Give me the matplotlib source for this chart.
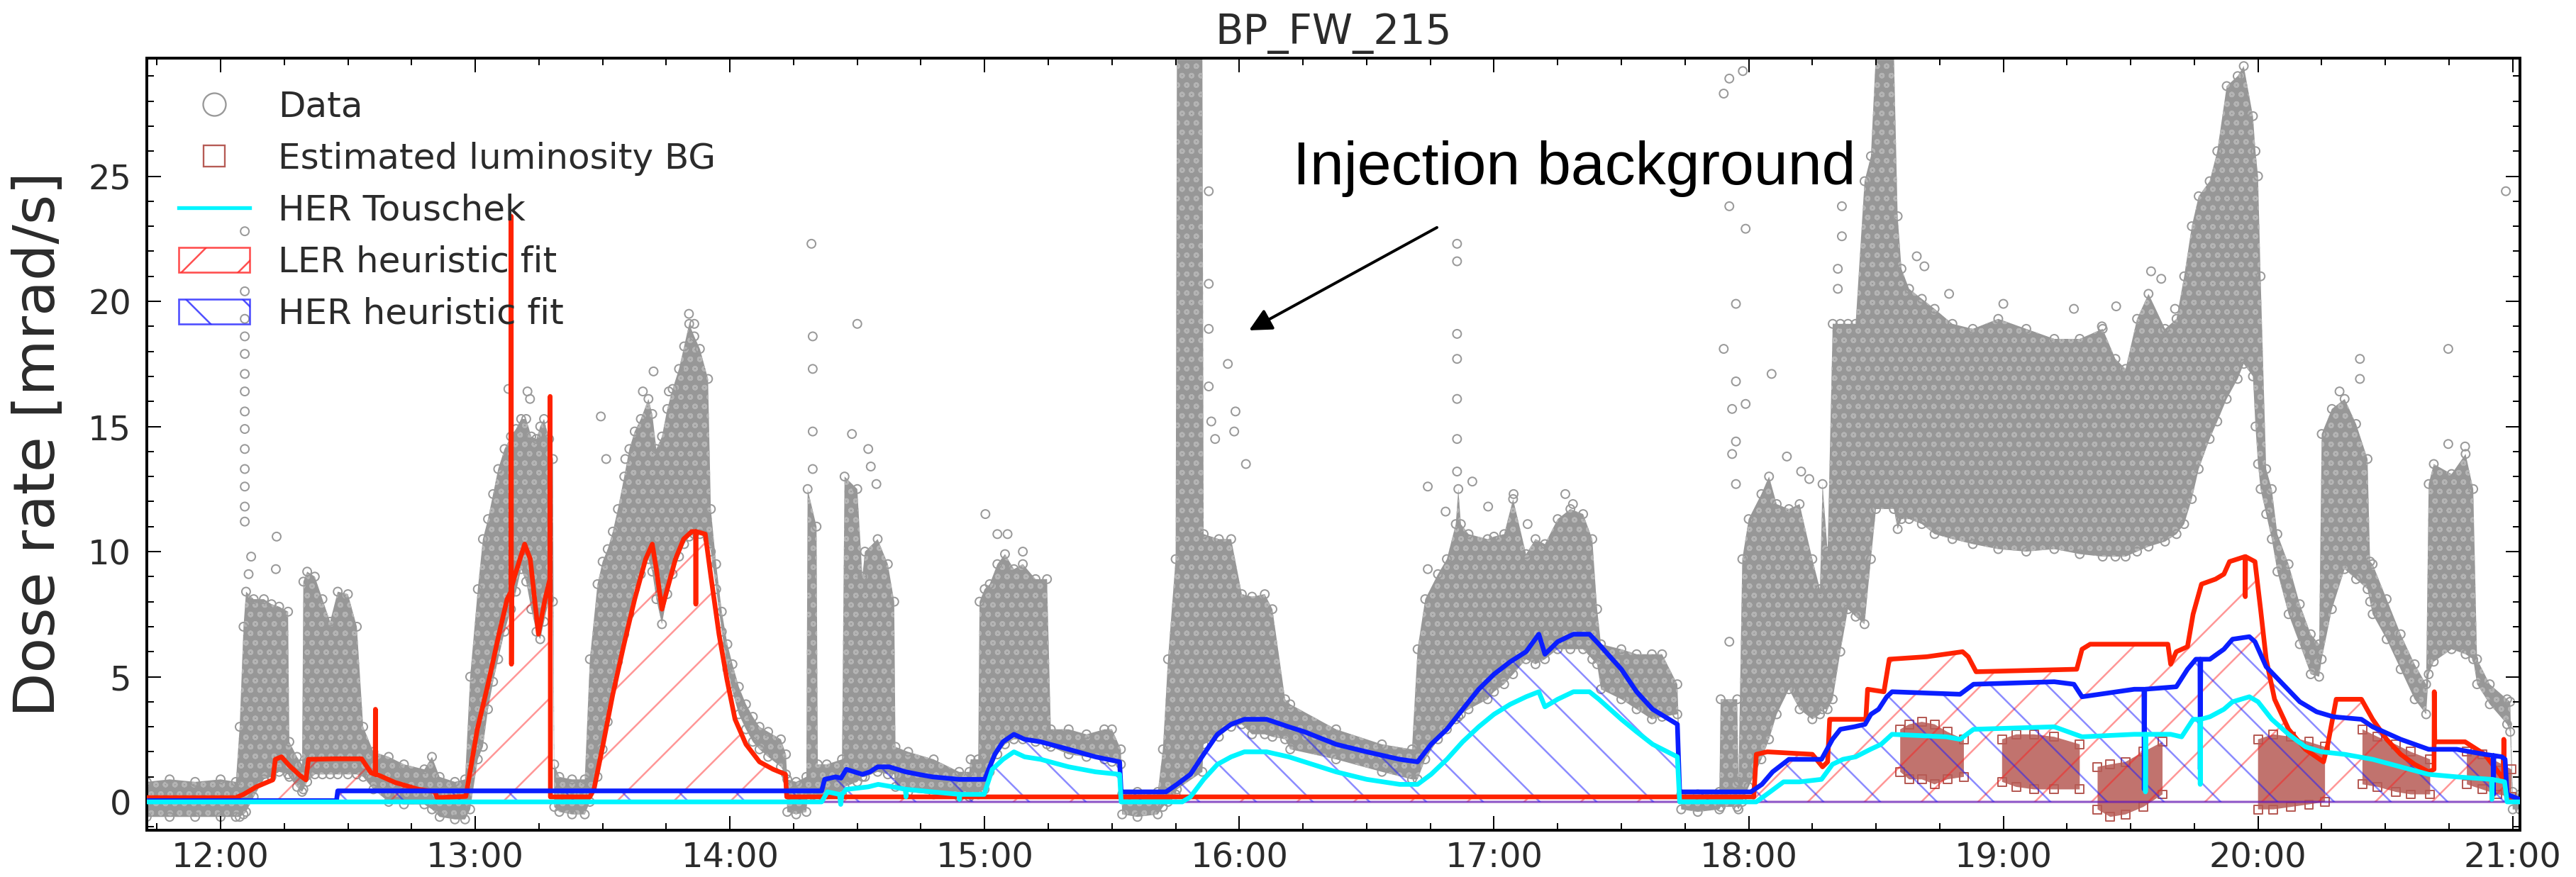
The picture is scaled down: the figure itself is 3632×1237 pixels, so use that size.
import numpy as np
import matplotlib
matplotlib.use("Agg")
import matplotlib.pyplot as plt
from matplotlib.lines import Line2D
from matplotlib.patches import Patch
from matplotlib.ticker import MultipleLocator, FuncFormatter

# all times are decimal hours of the day, dose rates in mrad/s

# measured data: lower / upper edge of the dense cloud of points
data_env = [
    (11.71, -0.6, 0.8), (11.80, -0.6, 0.9), (11.90, -0.6, 0.8), (12.00, -0.6, 0.9),
    (12.06, -0.6, 0.8), (12.075, -0.6, 3.0), (12.09, -0.5, 7.0), (12.10, -0.4, 8.4),
    (12.13, 0.2, 8.1), (12.17, 0.9, 8.1), (12.20, 1.0, 7.9), (12.23, 1.2, 7.8),
    (12.265, 1.1, 7.6), (12.27, 1.0, 2.4), (12.30, 0.6, 1.8), (12.32, 0.4, 1.5),
    (12.325, 0.5, 8.8), (12.34, 0.8, 9.2), (12.37, 1.1, 9.0), (12.40, 1.1, 8.1),
    (12.43, 1.1, 7.2), (12.46, 1.1, 8.4), (12.50, 1.1, 8.3), (12.535, 1.1, 7.0),
    (12.56, 1.0, 3.0), (12.60, 0.5, 2.0), (12.66, 0.0, 1.8), (12.72, -0.1, 1.5),
    (12.80, -0.1, 1.3), (12.83, -0.3, 1.8), (12.86, -0.6, 1.0), (12.92, -0.7, 0.8),
    (12.96, -0.7, 0.9), (12.98, -0.3, 5.0), (13.01, 1.7, 8.5), (13.03, 2.2, 10.5),
    (13.05, 3.7, 11.3), (13.07, 4.8, 12.3), (13.09, 5.7, 13.3), (13.115, 6.8, 14.1),
    (13.14, 7.7, 14.6), (13.16, 8.4, 14.9), (13.18, 9.3, 15.3), (13.20, 8.8, 15.3),
    (13.22, 7.7, 14.6), (13.24, 6.8, 14.5), (13.255, 6.5, 15.0), (13.27, 7.2, 15.3),
    (13.29, 8.1, 14.5), (13.305, 8.0, 13.7), (13.31, -0.2, 1.5), (13.33, -0.4, 1.0),
    (13.38, -0.5, 0.9), (13.43, -0.5, 0.9), (13.45, 0.0, 5.7), (13.48, 1.0, 8.7),
    (13.50, 2.1, 9.6), (13.52, 3.2, 10.1), (13.54, 4.7, 10.8), (13.56, 5.6, 11.7),
    (13.585, 6.7, 13.0), (13.605, 7.5, 14.1), (13.626, 8.5, 14.8), (13.65, 9.1, 15.3),
    (13.68, 9.7, 16.1), (13.695, 9.2, 15.5), (13.711, 8.1, 14.1), (13.733, 7.1, 14.6),
    (13.754, 8.3, 15.7), (13.775, 9.1, 16.5), (13.80, 9.8, 17.3), (13.82, 10.3, 18.2),
    (13.84, 10.6, 19.1), (13.86, 10.7, 18.6), (13.882, 10.7, 18.1), (13.914, 10.5, 16.9),
    (13.925, 10.0, 11.7), (13.946, 8.5, 9.5), (13.968, 6.8, 7.6), (13.99, 5.3, 6.3),
    (14.01, 4.4, 5.5), (14.035, 3.5, 4.6), (14.063, 2.9, 3.9), (14.09, 2.4, 3.4),
    (14.116, 2.1, 3.0), (14.15, 1.8, 2.8), (14.20, 1.4, 2.5), (14.22, 1.1, 1.9),
    (14.225, -0.4, 0.9), (14.26, -0.5, 0.8), (14.30, -0.4, 1.0), (14.305, 0.2, 12.5),
    (14.34, 0.2, 11.0), (14.345, 0.2, 1.5), (14.38, 0.3, 1.5), (14.44, 0.3, 1.7),
    (14.45, 0.6, 13.0), (14.50, 0.8, 12.5), (14.52, 1.0, 9.0), (14.53, 1.0, 10.0),
    (14.58, 1.2, 10.5), (14.62, 1.1, 9.5), (14.645, 1.1, 8.0), (14.65, 0.6, 2.2),
    (14.70, 0.4, 2.0), (14.80, 0.3, 1.7), (14.90, 0.2, 1.2), (14.94, 0.2, 1.2),
    (14.945, 0.3, 1.7), (14.975, 0.3, 1.7), (14.98, 0.4, 8.0), (15.00, 0.5, 8.5),
    (15.02, 1.2, 8.7), (15.05, 1.9, 9.5), (15.08, 2.3, 9.9), (15.115, 2.5, 9.3),
    (15.15, 2.5, 9.5), (15.20, 2.4, 8.9), (15.245, 2.3, 8.9), (15.26, 2.2, 2.9),
    (15.33, 1.9, 2.9), (15.40, 1.8, 2.7), (15.47, 1.7, 2.9), (15.50, 1.6, 2.9),
    (15.535, 1.5, 2.1), (15.54, -0.5, 0.3), (15.60, -0.6, 0.4), (15.68, -0.5, 0.4),
    (15.70, -0.2, 2.1), (15.72, 0.0, 5.7), (15.75, 0.3, 9.7), (15.755, 0.5, 30.0),
    (15.855, 1.2, 30.0), (15.86, 2.3, 10.7), (15.92, 2.6, 10.5), (15.968, 3.0, 10.5),
    (16.01, 3.1, 8.3), (16.05, 2.7, 8.2), (16.10, 2.7, 8.3), (16.13, 2.6, 7.7),
    (16.18, 2.5, 4.1), (16.20, 2.1, 3.9), (16.38, 1.7, 2.9), (16.56, 1.2, 2.3),
    (16.678, 0.9, 2.1), (16.70, 0.9, 6.1), (16.73, 1.7, 8.1), (16.78, 2.5, 9.1),
    (16.815, 2.9, 9.7), (16.85, 3.3, 11.1), (16.86, 3.4, 12.5), (16.87, 3.5, 11.1),
    (16.90, 3.7, 10.7), (16.975, 4.1, 10.5), (17.00, 4.4, 10.6), (17.04, 4.7, 10.7),
    (17.075, 5.1, 12.1), (17.126, 5.7, 9.9), (17.163, 5.5, 10.5), (17.20, 5.7, 10.3),
    (17.25, 6.1, 11.3), (17.30, 6.1, 11.7), (17.35, 6.1, 11.5), (17.386, 5.7, 10.5),
    (17.405, 5.5, 7.7), (17.42, 4.5, 6.3), (17.50, 4.1, 6.1), (17.56, 3.7, 5.9),
    (17.62, 3.3, 5.9), (17.66, 3.4, 5.9), (17.72, 3.5, 4.7), (17.735, -0.3, 0.3),
    (17.80, -0.4, 0.3), (17.885, -0.3, 0.4), (17.89, -0.2, 4.1), (17.955, -0.2, 4.1),
    (17.96, -0.3, 0.8), (17.975, 0.0, 9.7), (18.00, 0.6, 11.3), (18.05, 1.7, 12.3),
    (18.08, 2.5, 13.0), (18.11, 3.5, 11.9), (18.158, 4.5, 11.7), (18.20, 3.7, 11.9),
    (18.25, 3.3, 9.7), (18.28, 3.5, 8.5), (18.29, 3.7, 12.7), (18.31, 3.7, 10.0),
    (18.33, 4.1, 19.1), (18.36, 6.0, 19.1), (18.39, 7.7, 19.1), (18.42, 7.4, 19.1),
    (18.455, 7.1, 24.8), (18.48, 9.7, 25.8), (18.50, 11.7, 30.0), (18.57, 11.7, 30.0),
    (18.585, 10.9, 23.4), (18.60, 11.3, 21.3), (18.63, 11.3, 20.5), (18.68, 11.1, 20.1),
    (18.73, 10.7, 19.7), (18.80, 10.5, 19.1), (18.88, 10.3, 18.9), (18.98, 10.1, 19.3),
    (19.09, 10.0, 18.9), (19.20, 10.1, 18.5), (19.30, 9.9, 18.5), (19.39, 9.8, 18.9),
    (19.44, 9.8, 17.7), (19.48, 9.8, 17.3), (19.525, 10.0, 19.3), (19.57, 10.2, 20.3),
    (19.635, 10.4, 18.9), (19.68, 10.7, 19.3), (19.71, 11.1, 21.0), (19.74, 12.1, 23.0),
    (19.767, 13.3, 24.2), (19.81, 14.5, 24.8), (19.84, 15.2, 26.0), (19.877, 16.1, 28.6),
    (19.92, 16.9, 29.0), (19.944, 17.5, 29.4), (19.98, 17.0, 27.4), (19.99, 15.0, 26.0),
    (20.00, 13.5, 25.0), (20.01, 12.5, 21.0), (20.032, 11.5, 13.3), (20.054, 10.5, 12.5),
    (20.076, 9.2, 10.7), (20.12, 7.5, 9.5), (20.164, 6.3, 7.9), (20.207, 5.1, 6.7),
    (20.24, 5.0, 6.3), (20.25, 5.7, 14.7), (20.29, 7.7, 15.7), (20.34, 9.3, 16.1),
    (20.385, 8.9, 15.1), (20.43, 8.5, 13.7), (20.44, 8.0, 9.6), (20.45, 7.5, 9.5),
    (20.505, 6.5, 8.1), (20.56, 5.3, 6.7), (20.615, 4.1, 5.5), (20.66, 3.5, 4.7),
    (20.67, 5.1, 12.7), (20.69, 5.6, 13.5), (20.76, 6.1, 13.1), (20.815, 5.9, 13.9),
    (20.845, 5.7, 12.5), (20.86, 4.7, 5.7), (20.91, 3.9, 4.7), (20.978, 3.1, 4.1),
    (20.99, 2.8, 4.0), (21.00, -0.3, 0.4), (21.028, -0.3, 0.3),
]

# isolated data points standing out of the cloud
data_sparse = [
    (12.095, 11.2), (12.095, 11.8), (12.095, 12.6), (12.095, 13.3), (12.095, 14.1),
    (12.095, 14.9), (12.095, 15.6), (12.095, 16.4), (12.095, 17.1), (12.095, 17.9),
    (12.095, 18.6), (12.095, 19.3), (12.095, 20.4), (12.095, 22.8), (12.12, 9.8),
    (12.11, 9.1), (12.217, 9.3), (12.22, 10.6), (13.13, 16.5), (13.205, 16.4),
    (13.215, 16.1), (13.493, 15.4), (13.514, 13.7), (13.589, 13.7), (13.658, 16.4),
    (13.70, 17.2), (13.76, 16.4), (13.839, 19.5), (13.86, 19.1), (14.32, 22.3),
    (14.325, 18.6), (14.325, 17.3), (14.325, 14.8), (14.325, 13.3), (14.50, 19.1),
    (14.479, 14.7), (14.543, 14.1), (14.553, 13.4), (14.575, 12.7), (15.003, 11.5),
    (15.05, 10.7), (15.09, 10.7), (15.15, 10.0), (15.88, 24.4), (15.88, 20.7),
    (15.88, 18.9), (15.88, 16.6), (15.89, 15.2), (15.905, 14.5), (15.955, 17.5),
    (15.985, 15.6), (15.98, 14.8), (16.026, 13.5), (16.855, 22.3), (16.855, 21.6),
    (16.855, 18.7), (16.855, 17.7), (16.855, 16.1), (16.855, 14.5), (16.855, 13.2),
    (16.74, 12.6), (16.81, 11.6), (16.915, 12.8), (16.977, 11.8), (17.077, 12.3),
    (17.132, 11.1), (17.28, 12.3), (17.31, 11.9), (16.74, 9.3), (17.902, 28.3),
    (17.924, 28.9), (17.977, 29.2), (17.924, 23.8), (17.988, 22.9), (17.95, 19.9),
    (17.902, 18.1), (17.95, 16.8), (17.935, 15.7), (17.988, 15.9), (17.95, 14.4),
    (17.935, 13.9), (17.95, 12.7), (17.924, 6.4), (18.09, 17.1), (18.15, 13.8),
    (18.206, 13.2), (18.238, 12.9), (18.366, 22.6), (18.366, 23.8), (18.35, 21.3),
    (18.35, 20.5), (18.66, 21.8), (18.69, 21.4), (18.787, 20.3), (19.00, 19.9),
    (19.277, 19.7), (19.387, 19.0), (19.443, 19.8), (19.58, 21.2), (19.62, 20.9),
    (19.674, 19.7), (20.32, 16.4), (20.40, 17.7), (20.40, 16.9), (20.747, 18.1),
    (20.747, 14.3), (20.813, 14.2), (20.973, 24.4),
]

# estimated luminosity background: clusters given as (time, low, high)
lumi_clusters = [
    [(18.595, 1.2, 2.9), (18.63, 0.9, 3.1), (18.68, 0.9, 3.2), (18.73, 0.7, 3.1),
     (18.78, 0.9, 2.8), (18.845, 1.0, 2.5)],
    [(18.995, 0.8, 2.5), (19.05, 0.6, 2.7), (19.12, 0.5, 2.7), (19.20, 0.5, 2.6),
     (19.30, 0.5, 2.3)],
    [(19.37, -0.3, 1.4), (19.42, -0.6, 1.5), (19.48, -0.5, 1.6), (19.55, -0.2, 2.0),
     (19.625, 0.3, 2.4)],
    [(20.00, -0.3, 2.5), (20.06, -0.3, 2.7), (20.13, -0.2, 2.6), (20.20, -0.1, 2.4),
     (20.263, 0.0, 2.2)],
    [(20.41, 0.7, 2.9), (20.47, 0.6, 2.6), (20.54, 0.4, 2.3), (20.60, 0.3, 2.0),
     (20.676, 0.3, 1.7)],
    [(20.82, 0.7, 2.0), (20.88, 0.5, 1.9), (20.94, 0.3, 1.6), (20.995, 0.2, 1.3)],
]

ler_fit = [
    (11.71, 0.17), (12.06, 0.17), (12.09, 0.3), (12.14, 0.6), (12.205, 0.88),
    (12.215, 1.7), (12.239, 1.8), (12.27, 1.45), (12.31, 1.07), (12.335, 0.88),
    (12.345, 1.7), (12.45, 1.72), (12.554, 1.72), (12.591, 1.16), (12.607, 1.1),
    (12.608, 3.7), (12.609, 1.1), (12.62, 1.07), (12.684, 0.78), (12.777, 0.5),
    (12.842, 0.41), (12.85, 0.17), (12.963, 0.22), (13.008, 2.9), (13.05, 4.7),
    (13.093, 6.7), (13.125, 8.1), (13.14, 8.4), (13.141, 23.4), (13.142, 5.5),
    (13.143, 8.6), (13.157, 9.1), (13.194, 10.3), (13.216, 9.7), (13.248, 6.7),
    (13.274, 8.1), (13.293, 8.9), (13.294, 16.2), (13.295, 0.2), (13.45, 0.2),
    (13.466, 0.5), (13.498, 2.1), (13.54, 4.3), (13.584, 6.3), (13.626, 8.1),
    (13.669, 9.7), (13.695, 10.3), (13.711, 9.3), (13.733, 7.7), (13.754, 8.5),
    (13.786, 9.7), (13.818, 10.5), (13.85, 10.8), (13.865, 10.8), (13.866, 7.9),
    (13.867, 10.8), (13.903, 10.7), (13.924, 9.1), (13.957, 6.7), (13.988, 4.9),
    (14.02, 3.3), (14.063, 2.3), (14.116, 1.6), (14.17, 1.3), (14.218, 1.1),
    (14.223, 0.2), (18.02, 0.2), (18.03, 1.9), (18.073, 2.0), (18.25, 1.9),
    (18.29, 1.4), (18.31, 1.6), (18.318, 3.3), (18.46, 3.3), (18.467, 4.5),
    (18.531, 4.4), (18.552, 5.7), (18.70, 5.8), (18.84, 6.0), (18.862, 5.8),
    (18.893, 5.2), (19.288, 5.3), (19.309, 6.1), (19.341, 6.3), (19.646, 6.3),
    (19.657, 5.5), (19.679, 6.0), (19.723, 6.2), (19.745, 7.5), (19.778, 8.7),
    (19.833, 8.9), (19.866, 9.1), (19.888, 9.6), (19.949, 9.8), (19.95, 8.2),
    (19.951, 9.8), (19.988, 9.6), (20.01, 7.7), (20.032, 5.7), (20.065, 4.1),
    (20.12, 2.9), (20.186, 2.1), (20.257, 1.6), (20.274, 2.3), (20.307, 4.1),
    (20.406, 4.1), (20.45, 3.3), (20.505, 2.5), (20.56, 1.9), (20.615, 1.5),
    (20.67, 1.2), (20.691, 1.3), (20.692, 4.4), (20.694, 2.4), (20.813, 2.4),
    (20.89, 1.9), (20.935, 1.3), (20.964, 0.9), (20.965, 2.5), (20.967, 0.9),
    (20.978, 0.1), (21.028, 0.1),
]

her_fit = [
    (11.71, 0.05), (12.455, 0.05), (12.46, 0.44), (14.36, 0.44), (14.372, 0.9),
    (14.415, 1.0), (14.436, 0.95), (14.457, 1.3), (14.52, 1.1), (14.55, 1.2),
    (14.58, 1.4), (14.625, 1.4), (14.69, 1.2), (14.74, 1.1), (14.795, 1.0),
    (14.90, 0.9), (15.00, 0.9), (15.04, 1.9), (15.072, 2.4), (15.115, 2.7),
    (15.157, 2.5), (15.22, 2.4), (15.33, 2.1), (15.435, 1.8), (15.53, 1.6),
    (15.536, 0.4), (15.712, 0.4), (15.755, 0.7), (15.808, 1.1), (15.86, 1.9),
    (15.914, 2.7), (15.968, 3.1), (16.02, 3.3), (16.107, 3.3), (16.194, 3.0),
    (16.256, 2.8), (16.38, 2.3), (16.50, 2.0), (16.63, 1.7), (16.70, 1.6),
    (16.753, 2.3), (16.815, 2.9), (16.877, 3.7), (16.94, 4.5), (17.00, 5.1),
    (17.064, 5.6), (17.126, 6.0), (17.176, 6.7), (17.20, 5.9), (17.25, 6.4),
    (17.312, 6.7), (17.375, 6.7), (17.412, 6.3), (17.50, 5.3), (17.56, 4.4),
    (17.623, 3.7), (17.72, 3.1), (17.729, 0.4), (18.009, 0.4), (18.052, 0.7),
    (18.094, 1.2), (18.158, 1.7), (18.286, 1.7), (18.329, 2.5), (18.36, 2.9),
    (18.414, 3.0), (18.457, 3.1), (18.48, 3.5), (18.51, 3.7), (18.542, 4.2),
    (18.563, 4.4), (18.83, 4.3), (18.883, 4.7), (19.20, 4.8), (19.277, 4.7),
    (19.309, 4.2), (19.514, 4.5), (19.552, 4.5), (19.553, 0.5), (19.555, 4.5),
    (19.679, 4.6), (19.723, 5.3), (19.756, 5.7), (19.772, 5.7), (19.773, 1.3),
    (19.775, 5.7), (19.811, 5.7), (19.866, 6.1), (19.90, 6.5), (19.966, 6.6),
    (19.988, 6.4), (20.032, 5.4), (20.098, 4.7), (20.164, 4.0), (20.23, 3.6),
    (20.296, 3.4), (20.406, 3.3), (20.45, 3.0), (20.56, 2.5), (20.67, 2.1),
    (20.78, 2.1), (20.89, 1.9), (20.923, 1.85), (20.924, 0.3), (20.926, 1.85),
    (20.957, 1.8), (20.97, 1.7), (20.978, 0.3), (21.028, 0.1),
]

her_touschek = [
    (11.71, 0.0), (14.36, 0.0), (14.383, 0.4), (14.43, 0.3), (14.435, -0.1),
    (14.44, 0.3), (14.457, 0.5), (14.543, 0.6), (14.582, 0.7), (14.64, 0.6),
    (14.69, 0.5), (14.691, 0.2), (14.693, 0.5), (14.795, 0.4), (14.90, 0.3),
    (14.901, 0.1), (14.903, 0.3), (14.998, 0.3), (15.03, 1.3), (15.072, 1.7),
    (15.115, 2.0), (15.157, 1.8), (15.22, 1.7), (15.33, 1.4), (15.435, 1.2),
    (15.53, 1.1), (15.536, 0.0), (15.776, 0.0), (15.808, 0.2), (15.86, 0.9),
    (15.914, 1.5), (15.968, 1.8), (16.02, 2.0), (16.107, 2.0), (16.194, 1.8),
    (16.256, 1.6), (16.38, 1.2), (16.50, 0.9), (16.63, 0.7), (16.70, 0.7),
    (16.753, 1.1), (16.815, 1.7), (16.877, 2.4), (16.94, 3.0), (17.00, 3.5),
    (17.064, 3.9), (17.126, 4.2), (17.176, 4.4), (17.20, 3.8), (17.25, 4.1),
    (17.312, 4.4), (17.375, 4.4), (17.412, 4.1), (17.50, 3.3), (17.56, 2.8),
    (17.623, 2.3), (17.72, 1.8), (17.729, 0.0), (18.03, 0.0), (18.084, 0.4),
    (18.137, 0.8), (18.20, 0.8), (18.286, 0.9), (18.329, 1.5), (18.37, 1.7),
    (18.42, 1.8), (18.478, 2.1), (18.52, 2.3), (18.563, 2.7), (18.776, 2.6),
    (18.83, 2.5), (18.883, 2.9), (19.20, 3.0), (19.309, 2.6), (19.514, 2.7),
    (19.557, 2.7), (19.558, 0.4), (19.56, 2.7), (19.657, 2.7), (19.70, 2.6),
    (19.745, 3.3), (19.772, 3.3), (19.773, 0.7), (19.775, 3.3), (19.811, 3.4),
    (19.866, 3.7), (19.90, 4.0), (19.966, 4.2), (20.00, 4.0), (20.054, 3.3),
    (20.12, 2.7), (20.186, 2.2), (20.25, 2.0), (20.34, 1.9), (20.45, 1.7),
    (20.56, 1.4), (20.67, 1.1), (20.78, 1.0), (20.917, 0.9), (20.918, 0.1),
    (20.92, 0.9), (20.968, 0.8), (20.978, 0.0), (21.028, 0.0),
]

GRAY = "#999999"
BROWN = "#b65b55"
TXT = "#2b2b2b"

plt.rcParams["font.family"] = "DejaVu Sans"
plt.rcParams["hatch.linewidth"] = 0.38

# small figure at high dpi, so the hatch spacing matches the original
fig = plt.figure(figsize=(3632 / 480, 1237 / 480), dpi=480)
ax = fig.add_axes([0.0570, 0.0534, 0.9212, 0.8804])

# data cloud, with a ring hatch to imitate the overlapping circles
t, lo, hi = (np.array(c) for c in zip(*data_env))
ax.fill_between(t, lo, hi, facecolor="#979797", edgecolor="#b4b4b4",
                hatch="oooooo", lw=0, zorder=1)
ax.scatter(np.r_[t, t], np.r_[lo, hi], s=3.2, marker="o", facecolors="none",
           edgecolors=GRAY, linewidths=0.3, zorder=1.2)
st, sv = zip(*data_sparse)
ax.scatter(st, sv, s=3.2, marker="o", facecolors="none",
           edgecolors=GRAY, linewidths=0.3, zorder=1.2)

# luminosity background clusters
for cl in lumi_clusters:
    ct, clo, chi = (np.array(c) for c in zip(*cl))
    ax.fill_between(ct, clo, chi, facecolor=BROWN, edgecolor="#d39a96",
                    hatch="ssss", alpha=0.85, lw=0, zorder=2)
    ax.scatter(np.r_[ct, ct], np.r_[clo, chi], s=3.2, marker="s", facecolors="none",
               edgecolors=BROWN, linewidths=0.3, zorder=2.1)

lt, lv = zip(*ler_fit)
ht, hv = zip(*her_fit)
tt, tv = zip(*her_touschek)

# hatched heuristic fits
ax.fill_between(lt, 0, lv, facecolor="none", edgecolor=(1, 0.1, 0.1, 0.45),
                hatch="//", lw=0.45, zorder=2.5)
ax.fill_between(ht, 0, hv, facecolor="none", edgecolor=(0.1, 0.1, 1, 0.5),
                hatch="\\\\", lw=0.45, zorder=2.6)

ax.plot(lt, lv, color="#ff2200", lw=1.0, zorder=3)
ax.plot(ht, hv, color="#0a1eff", lw=1.0, zorder=3.1)
ax.plot(tt, tv, color="#00f5ff", lw=1.0, zorder=3.2)

# axes styling
def hhmm(h, pos):
    m = int(round(h * 60))
    return f"{m // 60:02d}:{m % 60:02d}"

ax.set_xlim(11.7104, 21.028)
ax.set_ylim(-1.13, 29.72)
ax.xaxis.set_major_locator(MultipleLocator(1))
ax.xaxis.set_minor_locator(MultipleLocator(0.25))
ax.xaxis.set_major_formatter(FuncFormatter(hhmm))
ax.yaxis.set_major_locator(MultipleLocator(5))
ax.yaxis.set_minor_locator(MultipleLocator(1))
ax.tick_params(which="both", direction="in", top=True, right=True,
               width=0.3, labelsize=7.2, labelcolor=TXT)
ax.tick_params(which="major", length=3)
ax.tick_params(which="minor", length=1.5)
ax.tick_params(axis="x", pad=2.4)
ax.tick_params(axis="y", pad=3.3)
for sp in ax.spines.values():
    sp.set_linewidth(0.6)

ax.set_title("BP_FW_215", fontsize=8.7, color=TXT, pad=3)
ax.set_ylabel("Dose rate [mrad/s]", fontsize=12.2, color=TXT, labelpad=4.5)

# annotation
ax.annotate("", xy=(16.038, 18.84), xytext=(16.776, 22.95),
            arrowprops=dict(arrowstyle="-|>", color="black", lw=0.6,
                            mutation_scale=10, shrinkA=0, shrinkB=0), zorder=5)
ax.text(16.211, 24.67, "Injection background", fontsize=12.9,
        family="Liberation Sans", color="black", ha="left", va="baseline", zorder=5)

handles = [
    Line2D([], [], ls="none", marker="o", mfc="none", mec=GRAY, ms=4.8, mew=0.35),
    Line2D([], [], ls="none", marker="s", mfc="none", mec=BROWN, ms=4.6, mew=0.35),
    Line2D([], [], color="#00f5ff", lw=0.8),
    Patch(facecolor="none", edgecolor=(1, 0.15, 0.15, 0.8), hatch="//", lw=0.4),
    Patch(facecolor="none", edgecolor=(0.15, 0.15, 1, 0.8), hatch="\\\\", lw=0.4),
]
labels = ["Data", "Estimated luminosity BG", "HER Touschek",
          "LER heuristic fit", "HER heuristic fit"]
leg = ax.legend(handles, labels, loc="upper left", frameon=False, fontsize=7.5,
                handlelength=2.0, handletextpad=0.8, labelspacing=0.5)
for txt in leg.get_texts():
    txt.set_color(TXT)

fig.savefig("out.png", dpi=480)
